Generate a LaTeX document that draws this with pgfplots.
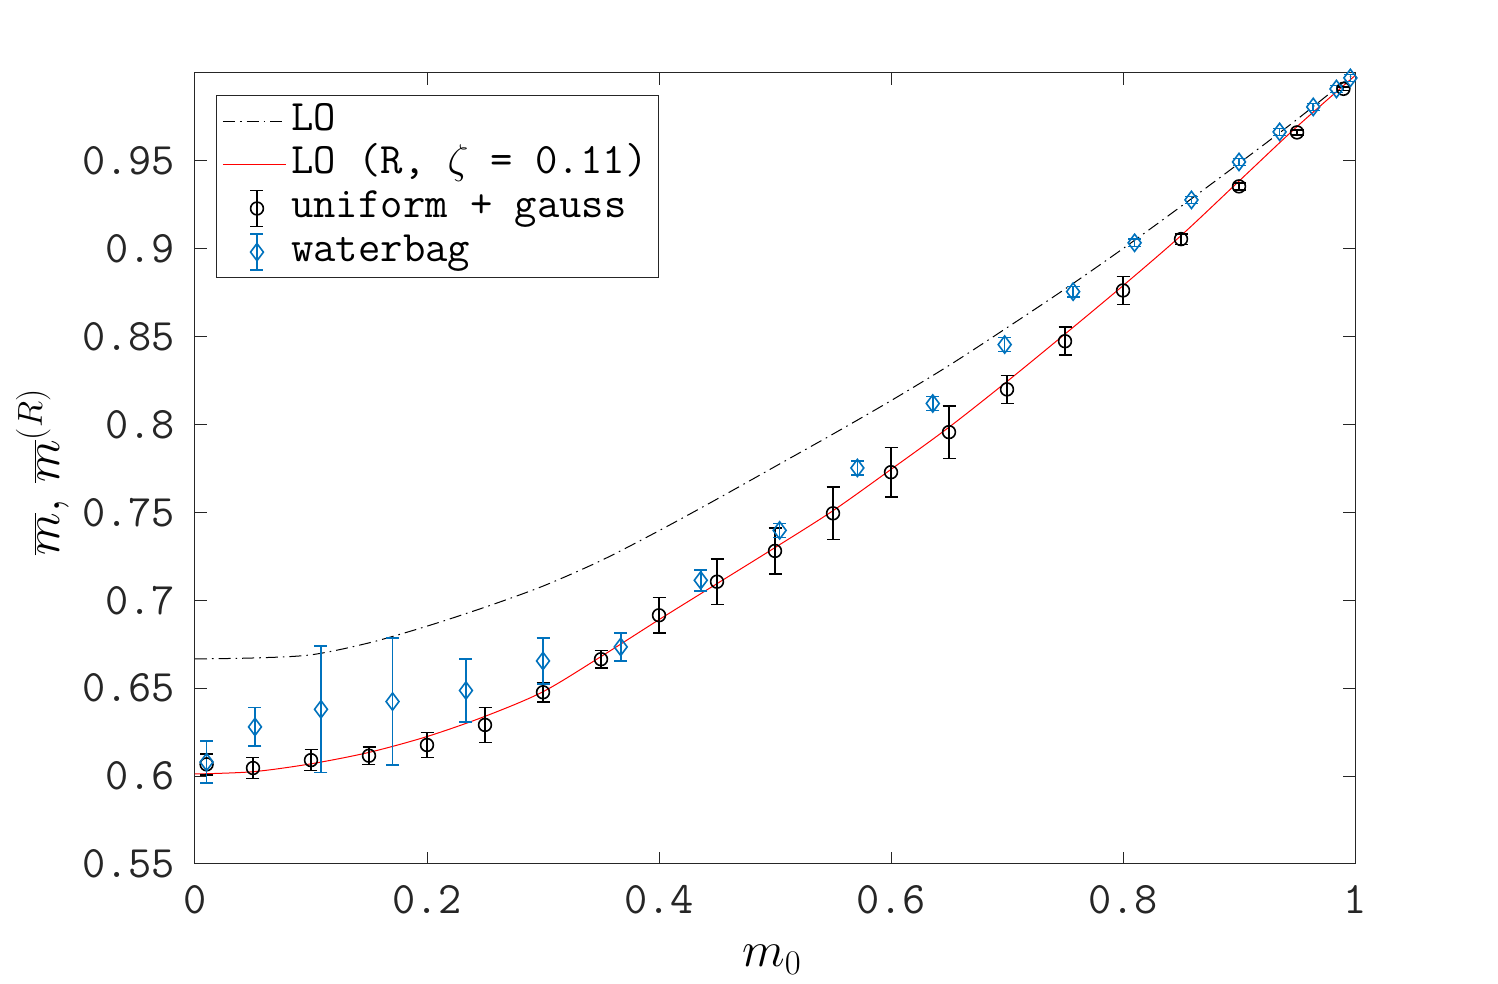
\documentclass[border=0pt]{standalone}
\usepackage{fontspec}
\usepackage{pgfplots}
\pgfplotsset{compat=1.18}
\usepackage{pgfplotstable}
\definecolor{axgray}{HTML}{262626}
\definecolor{mblue}{HTML}{0072BD}

\pgfplotsset{
  ebleg/.style={legend image code/.code={%
    \draw[#1,line width=0.8pt] (17pt,-9pt) -- (17pt,9pt) (13.75pt,-9pt) -- (20.25pt,-9pt) (13.75pt,9pt) -- (20.25pt,9pt);
    \draw[##1] plot coordinates {(17pt,0pt)};}},
}

\pgfplotstableread{
x y
0 0.6667
0.05 0.6672
0.1 0.6690
0.15 0.6758
0.2 0.6853
0.25 0.6961
0.3 0.7081
0.35 0.7226
0.4 0.7396
0.45 0.7576
0.5 0.7761
0.55 0.7946
0.6 0.8136
0.65 0.8336
0.7 0.8551
0.75 0.8771
0.8 0.9001
0.85 0.9241
0.9 0.9486
0.95 0.9736
1.0 1.0
}\lodata

\pgfplotstableread{
x y
0 0.6012
0.05 0.6025
0.1 0.6070
0.15 0.6135
0.2 0.6225
0.25 0.6340
0.3 0.6480
0.35 0.6680
0.4 0.6890
0.45 0.7095
0.5 0.7300
0.55 0.7510
0.6 0.7745
0.65 0.7985
0.7 0.8245
0.75 0.8515
0.8 0.8790
0.85 0.9075
0.9 0.9385
0.95 0.9695
1.0 0.9985
}\lordata

\pgfplotstableread{
x y e
0.01 0.6067 0.006
0.05 0.6046 0.006
0.10 0.6091 0.006
0.15 0.6116 0.005
0.20 0.6177 0.007
0.25 0.6291 0.010
0.30 0.6477 0.0055
0.35 0.6665 0.005
0.40 0.6915 0.010
0.45 0.7106 0.013
0.50 0.7281 0.013
0.55 0.7495 0.015
0.60 0.7729 0.014
0.65 0.7957 0.015
0.70 0.8200 0.008
0.75 0.8474 0.008
0.80 0.8763 0.008
0.85 0.9055 0.003
0.90 0.9355 0.002
0.95 0.9662 0.0015
0.99 0.9910 0.001
}\ugdata

\pgfplotstableread{
x y e
0.010 0.6080 0.012
0.0517 0.6280 0.011
0.1086 0.6380 0.036
0.1703 0.6424 0.036
0.2336 0.6487 0.018
0.300 0.6655 0.013
0.367 0.6735 0.008
0.436 0.7114 0.006
0.504 0.7398 0.004
0.571 0.7753 0.004
0.636 0.8120 0.004
0.698 0.8455 0.004
0.757 0.8756 0.003
0.810 0.9034 0.002
0.859 0.9278 0.002
0.900 0.9494 0.002
0.935 0.9665 0.002
0.964 0.9807 0.002
0.984 0.9909 0.002
0.996 0.9972 0.002
}\wbdata

\begin{document}
\begin{tikzpicture}
\path[use as bounding box] (-97.5pt,-60pt) rectangle (651.5pt,432pt);
\begin{axis}[
  at={(0,0)}, anchor=south west,
  scale only axis, width=580pt, height=395.5pt,
  xmin=0, xmax=1, ymin=0.55, ymax=1,
  xtick={0,0.2,...,1}, ytick={0.55,0.6,...,0.95},
  tick align=inside, major tick length=6pt,
  axis line style={axgray, line width=0.5pt},
  every tick/.style={axgray, line width=0.5pt},
  /pgf/number format/assume math mode=true,
  tick label style={font=\ttfamily\fontsize{22.5}{26}\selectfont, text=axgray},
  xticklabel style={yshift=-7pt},
  yticklabel style={xshift=-6.5pt},
  label style={font=\fontsize{23}{27}\selectfont},
  xlabel={$m_0$},
  xlabel style={at={(axis description cs:0.4974,-0.130)}, anchor=base},
  ylabel={$\overline{m},\,\overline{m}^{(R)}$},
  ylabel style={at={(axis description cs:-0.1164,0.4956)}, anchor=base, rotate=0},
  legend image code/.code={\draw[#1] (0pt,0pt) -- (31.5pt,0pt);},
  legend style={at={(0.0181,0.9722)}, anchor=north west, draw=axgray, line width=0.5pt,
    fill=white, font=\ttfamily\fontsize{21.7}{25}\selectfont, inner xsep=3pt, inner ysep=2pt,
    row sep=0pt,
    nodes={text height=13pt, text depth=4pt, inner sep=2.4pt}},
  legend cell align=left,
]
\addplot[black, line width=0.5pt, dash pattern=on 6pt off 2.5pt on 0.8pt off 2.5pt, smooth] table[x=x,y=y]{\lodata};
\addlegendentry{LO}
\addplot[red, line width=0.5pt, smooth] table[x=x,y=y]{\lordata};
\addlegendentry{LO (R, $\zeta$ = 0.11)\hspace{2.5pt}}
\addplot[black, only marks, mark=o, mark size=3.2pt, line width=0.8pt, ebleg=black,
  error bars/.cd, y dir=both, y explicit,
  error bar style={line width=0.8pt, black},
  error mark options={rotate=90, mark size=3.25pt, line width=0.8pt, black}]
  table[x=x,y=y,y error=e]{\ugdata};
\addlegendentry{uniform + gauss}
\addplot[mblue, only marks, mark=diamond, mark size=4.3pt, line width=0.8pt, ebleg=mblue,
  error bars/.cd, y dir=both, y explicit,
  error bar style={line width=0.8pt, mblue},
  error mark options={rotate=90, mark size=3.25pt, line width=0.8pt, mblue}]
  table[x=x,y=y,y error=e]{\wbdata};
\addlegendentry{waterbag}
\end{axis}
\end{tikzpicture}
\end{document}
